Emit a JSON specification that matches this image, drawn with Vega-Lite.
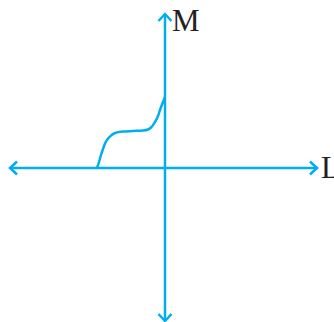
{
  "$schema": "https://vega.github.io/schema/vega-lite/v6.json",
  "width": 334,
  "height": 322,
  "padding": 0,
  "autosize": {"type": "none"},
  "background": "white",
  "config": {"view": {"stroke": null}},
  "datasets": {
    "lines": [
      {"seg": "h", "i": 0, "x": -155, "y": 0},
      {"seg": "h", "i": 1, "x": 152, "y": 0},
      {"seg": "v", "i": 0, "x": 0, "y": 154},
      {"seg": "v", "i": 1, "x": 0, "y": -153},
      {"seg": "al", "i": 0, "x": -148, "y": 6.5},
      {"seg": "al", "i": 1, "x": -155, "y": 0},
      {"seg": "al", "i": 2, "x": -148, "y": -6.5},
      {"seg": "ar", "i": 0, "x": 145, "y": 6.5},
      {"seg": "ar", "i": 1, "x": 152, "y": 0},
      {"seg": "ar", "i": 2, "x": 145, "y": -6.5},
      {"seg": "at", "i": 0, "x": -6.5, "y": 147},
      {"seg": "at", "i": 1, "x": 0, "y": 154},
      {"seg": "at", "i": 2, "x": 6.5, "y": 147},
      {"seg": "ab", "i": 0, "x": -6.5, "y": -146},
      {"seg": "ab", "i": 1, "x": 0, "y": -153},
      {"seg": "ab", "i": 2, "x": 6.5, "y": -146}
    ],
    "curve": [
      {"x": -68, "y": 0},
      {"x": -66, "y": 6},
      {"x": -64, "y": 13},
      {"x": -62, "y": 19},
      {"x": -60, "y": 24.5},
      {"x": -55, "y": 31.5},
      {"x": -50, "y": 35},
      {"x": -42, "y": 36.5},
      {"x": -32, "y": 37},
      {"x": -22, "y": 37.5},
      {"x": -17, "y": 38.5},
      {"x": -14, "y": 40.5},
      {"x": -10, "y": 46},
      {"x": -7, "y": 52},
      {"x": -5, "y": 58},
      {"x": -2, "y": 66},
      {"x": 0, "y": 71}
    ],
    "labels": [
      {"t": "M", "x": 7, "y": 137},
      {"t": "L", "x": 156, "y": -10}
    ]
  },
  "layer": [
    {
      "data": {"name": "lines"},
      "mark": {"type": "line", "color": "#00aeef", "strokeWidth": 2.5, "strokeJoin": "miter", "strokeCap": "butt"},
      "encoding": {
        "x": {"field": "x", "type": "quantitative", "scale": {"domain": [-165, 169], "nice": false, "zero": false}, "axis": null},
        "y": {"field": "y", "type": "quantitative", "scale": {"domain": [-154, 168], "nice": false, "zero": false}, "axis": null},
        "detail": {"field": "seg"},
        "order": {"field": "i", "type": "quantitative"}
      }
    },
    {
      "data": {"name": "curve"},
      "mark": {"type": "line", "color": "#00aeef", "strokeWidth": 2.5, "interpolate": "monotone"},
      "encoding": {
        "x": {"field": "x", "type": "quantitative"},
        "y": {"field": "y", "type": "quantitative"}
      }
    },
    {
      "data": {"name": "labels"},
      "mark": {"type": "text", "font": "Liberation Serif", "fontSize": 31, "align": "left", "baseline": "alphabetic", "color": "#222222"},
      "encoding": {
        "x": {"field": "x", "type": "quantitative"},
        "y": {"field": "y", "type": "quantitative"},
        "text": {"field": "t"}
      }
    }
  ]
}
